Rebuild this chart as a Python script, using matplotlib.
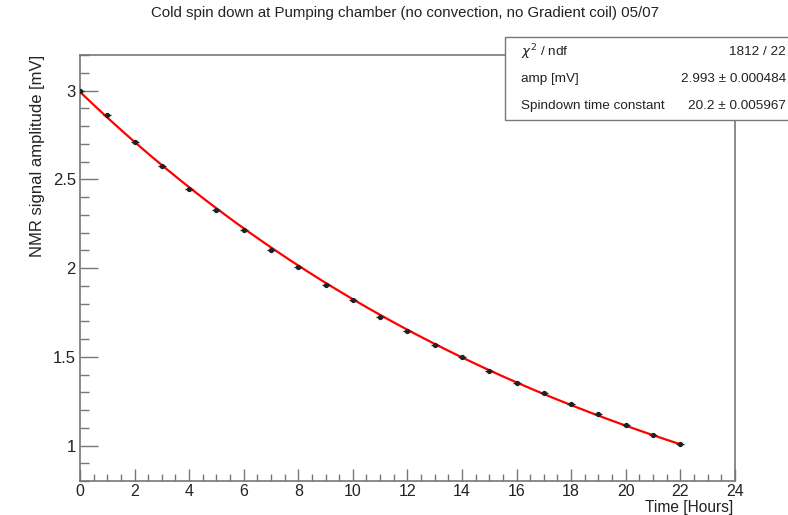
import matplotlib
matplotlib.use("Agg")
import matplotlib.pyplot as plt
import numpy as np
from matplotlib.patches import Rectangle
from matplotlib.ticker import MultipleLocator, FuncFormatter

plt.rcParams['font.family'] = ['Liberation Sans', 'DejaVu Sans']

#measured amplitude, one point per hour
hours = [0, 1, 2, 3, 4, 5, 6, 7, 8, 9, 10, 11, 12, 13, 14, 15, 16, 17, 18, 19, 20, 21, 22]
amplitude = [3.00, 2.86, 2.71, 2.575, 2.445, 2.328, 2.212, 2.104, 2.005, 1.905, 1.818,
             1.725, 1.646, 1.568, 1.501, 1.418, 1.354, 1.297, 1.235, 1.175, 1.118, 1.057, 1.006]

#fit results shown in the stat box
fit_amp = 2.993
fit_tau = 20.2
stat_labels = [r'$\chi^2$ / ndf', 'amp [mV]', 'Spindown time constant']
stat_values = ['1812 / 22', '2.993 \u00b1 0.000484', '20.2 \u00b1 0.005967']

axis_col = '#777777'

fig = plt.figure(figsize=(7.88, 5.15), dpi=100)
ax = fig.add_axes([0.1015, 0.066, 0.831, 0.827])

#fit curve
t = np.linspace(hours[0], hours[-1], 300)
ax.plot(t, fit_amp * np.exp(-t / fit_tau), color='#ff0000', lw=1.6, zorder=2)
#data points
ax.plot(hours, amplitude, ls='none', marker='o', ms=2.8, color='#222222', zorder=3)
ax.plot(hours, amplitude, ls='none', marker='_', ms=6, mew=1.0, color='#222222', zorder=3)

ax.set_xlim(0, 24)
ax.set_ylim(0.8, 3.2)
ax.xaxis.set_major_locator(MultipleLocator(2))
ax.xaxis.set_minor_locator(MultipleLocator(0.5))
ax.yaxis.set_major_locator(MultipleLocator(0.5))
ax.yaxis.set_minor_locator(MultipleLocator(0.1))
ax.yaxis.set_major_formatter(FuncFormatter(lambda v, p: '%g' % round(v, 2)))
ax.tick_params(axis='both', which='both', direction='in', color=axis_col, width=1.0,
               labelsize=12, labelcolor='#222222')
ax.tick_params(axis='x', which='major', length=9, pad=2.5, labelsize=11.5)
ax.tick_params(axis='x', which='minor', length=5)
ax.tick_params(axis='y', which='major', length=13, pad=3)
ax.tick_params(axis='y', which='minor', length=6.5)
for s in ax.spines.values():
    s.set_color(axis_col)
    s.set_linewidth(1.2)

fig.text(0.514, 1 - 13 / 515, 'Cold spin down at Pumping chamber (no convection, no Gradient coil) 05/07',
         ha='center', va='center', fontsize=10.8, color='#222222')
fig.text(0.930, 3 / 515, 'Time [Hours]', ha='right', va='baseline', fontsize=11.2, color='#222222')
fig.text(0.048, 0.893, 'NMR signal amplitude [mV]', ha='center', va='top', rotation=90,
         fontsize=12, color='#222222')

#stat box
box = Rectangle((505 / 788, 1 - 120 / 515), 300 / 788, 83 / 515, transform=fig.transFigure,
                facecolor='white', edgecolor=axis_col, lw=1.0, zorder=5)
fig.add_artist(box)
row_y = [52, 79, 106]
for lab, val, yy in zip(stat_labels, stat_values, row_y):
    fig.text(521 / 788, 1 - yy / 515, lab, ha='left', va='center', fontsize=9.7,
             color='#222222', zorder=6)
    fig.text(786 / 788, 1 - yy / 515, val, ha='right', va='center', fontsize=9.7,
             color='#222222', zorder=6)

fig.savefig('out.png', dpi=100)
